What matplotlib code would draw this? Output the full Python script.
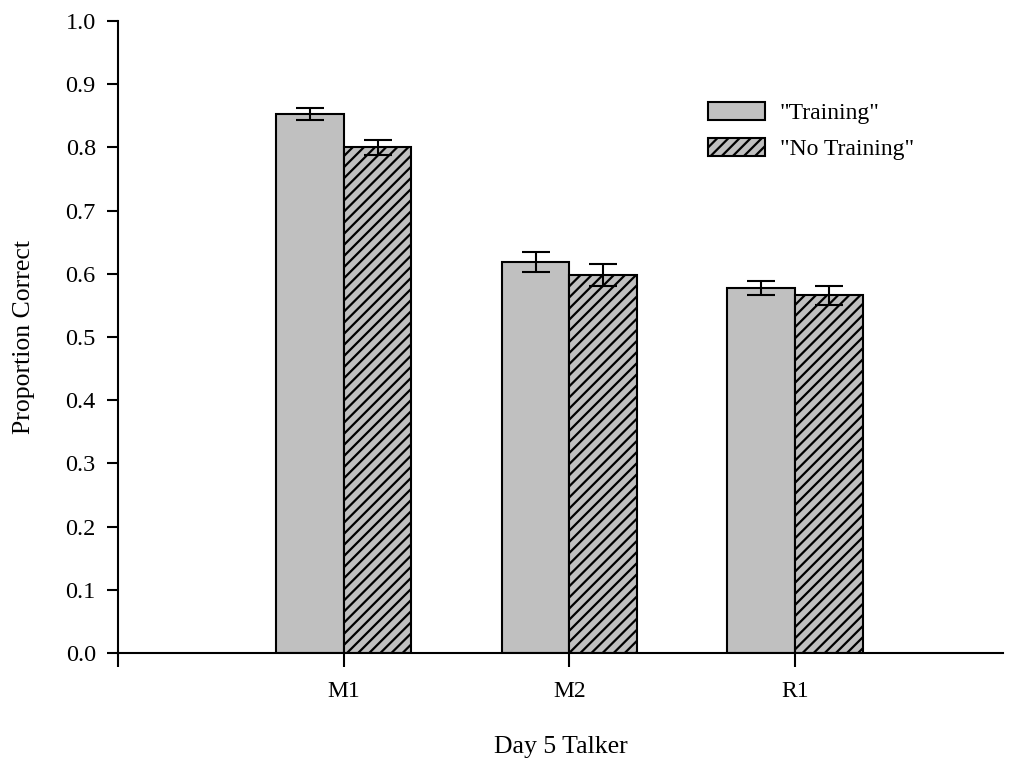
import matplotlib
matplotlib.use("Agg")
import matplotlib.pyplot as plt
import numpy as np
from matplotlib.patches import Patch

plt.rcParams['font.family'] = ['Liberation Serif', 'DejaVu Serif']
plt.rcParams['hatch.linewidth'] = 1.6

# proportion correct per talker on day 5
talkers = ['M1', 'M2', 'R1']
training = [0.853, 0.619, 0.578]
training_err = [0.010, 0.016, 0.011]
no_training = [0.800, 0.598, 0.566]
no_training_err = [0.012, 0.017, 0.015]

fig = plt.figure(figsize=(10.13, 7.6), dpi=100)
ax = fig.add_axes([0.1165, 0.1408, 0.8735, 0.8316])

x = np.arange(len(talkers))
w = 0.3
ax.bar(x - w / 2, training, w, color='#c0c0c0', edgecolor='black', linewidth=1.5,
       yerr=training_err, capsize=10, error_kw=dict(elinewidth=1.5, capthick=1.5),
       zorder=2)
ax.bar(x + w / 2, no_training, w, color='#c0c0c0', edgecolor='black', linewidth=1.5,
       hatch='///', yerr=no_training_err, capsize=10,
       error_kw=dict(elinewidth=1.5, capthick=1.5), zorder=2)

ax.set_xlim(-1, 2.92)
ax.set_ylim(0, 1.0)
ax.set_yticks(np.arange(0, 1.01, 0.1))
ax.set_yticklabels([f'{v:.1f}' for v in np.arange(0, 1.01, 0.1)])
ax.set_xticks([-1] + list(x))
ax.set_xticklabels([''] + talkers)

for s in ['top', 'right']:
    ax.spines[s].set_visible(False)
for s in ['left', 'bottom']:
    ax.spines[s].set_linewidth(1.5)
ax.tick_params(axis='y', direction='out', length=8, width=1.5, labelsize=17.5, pad=8)
ax.tick_params(axis='x', direction='out', length=10, width=1.5, labelsize=17, pad=10)

ax.set_xlabel('Day 5 Talker', fontsize=18.5, labelpad=25)
ax.set_ylabel('Proportion Correct', fontsize=18.5, labelpad=22)

handles = [Patch(facecolor='#c0c0c0', edgecolor='black', linewidth=1.5, label='"Training"'),
           Patch(facecolor='#c0c0c0', edgecolor='black', linewidth=1.5, hatch='///',
                 label='"No Training"')]
ax.legend(handles=handles, loc='upper left', bbox_to_anchor=(0.643, 0.905),
          frameon=False, fontsize=17, handlelength=2.4, handleheight=0.75,
          handletextpad=0.64, labelspacing=0.6)

fig.savefig('out.png', dpi=100)
